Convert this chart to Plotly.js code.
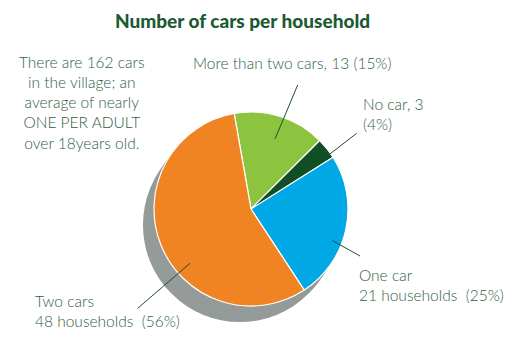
<!DOCTYPE html>
<html>
<head>
<meta charset="utf-8">
<script src="https://cdn.plot.ly/plotly-3.0.1.min.js"></script>
<style>html,body{margin:0;padding:0;background:#fff;}#chart{width:524px;height:357px;}</style>
</head>
<body>
<div id="chart"></div>
<script>
// ---- data ----
const categories = ["More than two cars", "No car", "One car", "Two cars"];
const households = [13, 3, 21, 48];
const percents = [15, 4, 25, 56];
const sliceColors = ["#8CC43F", "#114D25", "#00A8E6", "#F08322"];
const noteLines = ["There are 162 cars", "in the village; an", "average of nearly", "ONE PER ADULT", "over 18years old."];
const titleText = "Number of cars per household";

// ---- layout helpers (pixel -> paper) ----
const W = 524, H = 357;
const px = x => x / W;
const py = y => 1 - y / H;
const font = "Lato, 'Open Sans', sans-serif";
const textColor = "#2f5e45";
const lineColor = "#1e4d33";

function domainFor(cx, cy, r) {
  return { x: [px(cx - r), px(cx + r)], y: [py(cy + r), py(cy - r)] };
}

const R = 97, CX = 251, CY = 209;
const traces = [];
// extruded shadow: several gray discs offset down-left
const steps = 8;
for (let i = steps; i >= 1; i--) {
  const f = i / steps;
  traces.push({
    type: "pie", values: [1], sort: false, textinfo: "none", hoverinfo: "skip",
    marker: { colors: ["#949B98"], line: { width: 0 } },
    domain: domainFor(CX - 11 * f, CY + 16 * f, R), showlegend: false
  });
}
traces.push({
  type: "pie",
  labels: categories,
  values: households,
  sort: false,
  direction: "clockwise",
  rotation: -10,
  textinfo: "none",
  hoverinfo: "label+value",
  marker: { colors: sliceColors, line: { color: "#ffffff", width: 1.2 } },
  domain: domainFor(CX, CY, R),
  showlegend: false
});

const nb = "&nbsp;";
const annotations = [
  { text: `${categories[0]}, ${households[0]} (${percents[0]}%)`, x: px(291.7), y: py(63), xanchor: "center", align: "center" },
  { text: `${categories[1]}, ${households[1]}<br>(${percents[1]}%)`, x: px(361), y: py(114), xanchor: "left", align: "left" },
  { text: `${categories[2]}<br>${households[2]} households${nb}${nb}(${percents[2]}%)`, x: px(357), y: py(285), xanchor: "left", align: "left" },
  { text: `Two cars<br>${households[3]} households${nb}${nb}(${percents[3]}%)`, x: px(33), y: py(311), xanchor: "left", align: "left" },
  { text: noteLines.join("<br>"), x: px(81.7), y: py(103), xanchor: "center", align: "center" }
].map(a => Object.assign({ xref: "paper", yref: "paper", yanchor: "middle", showarrow: false,
  font: { family: font, size: 15.5, color: textColor, weight: 300 } }, a));

const seg = (x0, y0, x1, y1) => ({ type: "line", xref: "paper", yref: "paper",
  x0: px(x0), y0: py(y0), x1: px(x1), y1: py(y1), line: { color: lineColor, width: 1 } });
const shapes = [
  seg(297.7, 85, 275, 139),
  seg(356.7, 133.3, 327.3, 156),
  seg(332.7, 240.7, 360, 256),
  seg(190, 263.3, 137.7, 308.3)
];

const layout = {
  width: W, height: H,
  margin: { l: 0, r: 0, t: 0, b: 0 },
  paper_bgcolor: "#ffffff", plot_bgcolor: "#ffffff",
  title: { text: titleText, x: px(242.5), xanchor: "center", y: py(21), yanchor: "middle", yref: "container",
    font: { family: font, size: 19, color: "#1B5A32", weight: 900 } },
  annotations, shapes, showlegend: false
};

Plotly.newPlot("chart", traces, layout, { staticPlot: true, displayModeBar: false });
</script>
</body>
</html>
